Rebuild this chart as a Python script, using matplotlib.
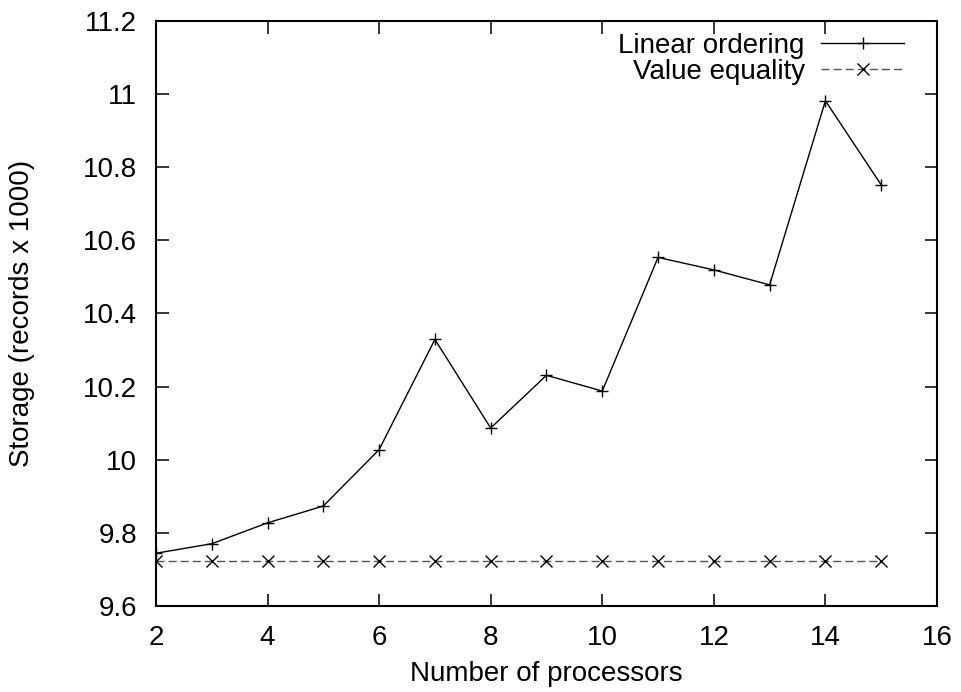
import matplotlib
matplotlib.use("Agg")
import matplotlib.pyplot as plt
from matplotlib.ticker import FormatStrFormatter, MultipleLocator

plt.rcParams['font.family'] = ['Liberation Sans', 'DejaVu Sans']

# storage per processor count (records x 1000)
processors = [2, 3, 4, 5, 6, 7, 8, 9, 10, 11, 12, 13, 14, 15]
linear_ordering = [9.745, 9.771, 9.828, 9.874, 10.028, 10.329, 10.087,
                   10.231, 10.188, 10.553, 10.519, 10.478, 10.981, 10.751]
value_equality = [9.725] * len(processors)

fs = 20

fig = plt.figure(figsize=(9.61, 6.92), dpi=100)
ax = fig.add_axes([0.1623, 0.1238, 0.8127, 0.8465])

ax.plot(processors, linear_ordering, color='black', lw=1.0, marker='+',
        ms=9, mew=1.0, label='Linear ordering')
ax.plot(processors, value_equality, color='#555555', lw=1.0, ls=(0, (5.8, 2.9)),
        marker='x', ms=8, mew=1.0, mec='black', label='Value equality')

ax.set_xlim(2, 16)
ax.set_ylim(9.6, 11.2)
ax.xaxis.set_major_locator(MultipleLocator(2))
ax.yaxis.set_major_locator(MultipleLocator(0.2))
ax.yaxis.set_major_formatter(FormatStrFormatter('%g'))
ax.tick_params(direction='in', top=True, right=True, length=9, width=1.1,
               labelsize=fs, pad=13.5)
for s in ax.spines.values():
    s.set_linewidth(1.5)

ax.set_xlabel('Number of processors', fontsize=fs)
ax.set_ylabel('Storage (records x 1000)', fontsize=fs)
ax.xaxis.set_label_coords(0.5, -0.093)
ax.yaxis.set_label_coords(-0.155, 0.5)

ax.legend(loc='upper right', bbox_to_anchor=(0.958, 0.979), frameon=False,
          markerfirst=False, fontsize=fs, handlelength=3.0, borderaxespad=0,
          labelspacing=0.0, handletextpad=0.58, borderpad=0)

fig.savefig('out.png', dpi=100)
